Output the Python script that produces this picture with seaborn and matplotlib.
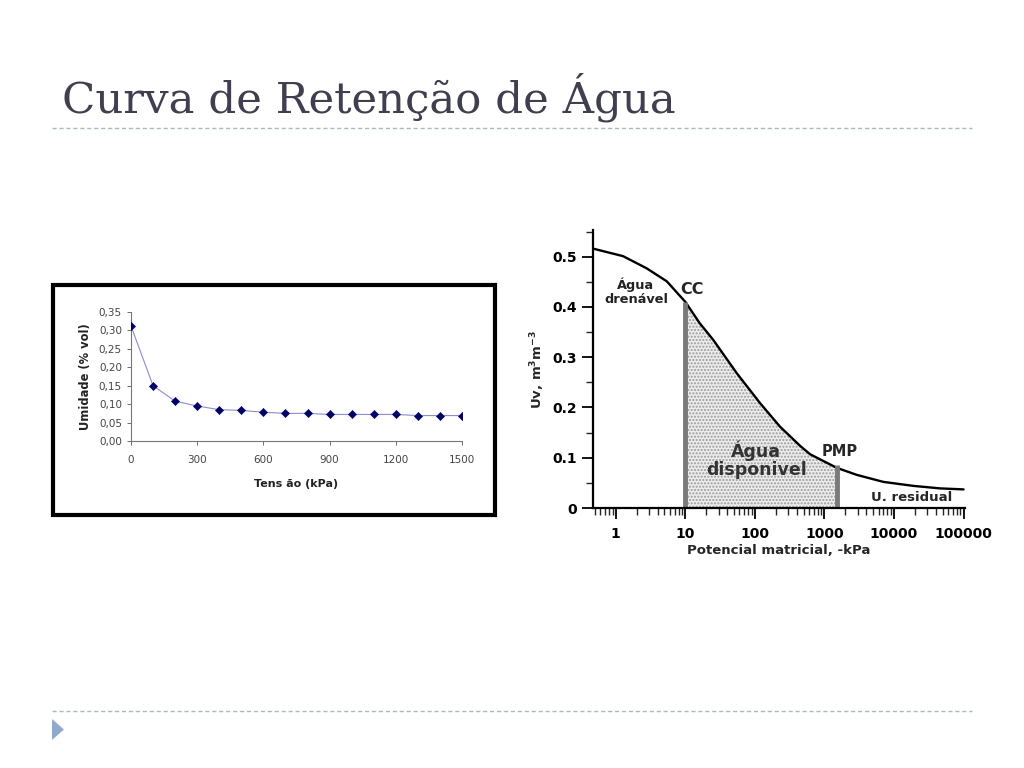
import matplotlib
matplotlib.use('Agg')
import numpy as np
import pandas as pd
import matplotlib.pyplot as plt
import seaborn as sns
from matplotlib.patches import Rectangle, Polygon
from matplotlib.lines import Line2D
from matplotlib.ticker import FixedLocator, NullFormatter, LogLocator

'''data - left chart (Tensão x Umidade)'''
tensao = [0, 100, 200, 300, 400, 500, 600, 700, 800, 900, 1000, 1100, 1200, 1300, 1400, 1500]
umidade = [0.312, 0.150, 0.108, 0.095, 0.085, 0.083, 0.078, 0.075, 0.075, 0.072,
           0.072, 0.072, 0.072, 0.069, 0.069, 0.069]
left_yticks = [0.0, 0.05, 0.10, 0.15, 0.20, 0.25, 0.30, 0.35]
left_xticks = [0, 300, 600, 900, 1200, 1500]

'''data - right chart (curva de retenção)'''
potencial = [0.47, 1.27, 2.76, 5.4, 10, 16, 25, 55, 118, 229, 444, 620, 1500,
             2900, 7000, 19000, 46000, 100000]
uv = [0.516, 0.501, 0.477, 0.451, 0.41, 0.368, 0.335, 0.268, 0.209, 0.162, 0.124,
      0.107, 0.080, 0.066, 0.052, 0.044, 0.039, 0.037]
cc = 10
pmp = 1500
right_xticks = [1, 10, 100, 1000, 10000, 100000]
right_yticks = [0, 0.1, 0.2, 0.3, 0.4, 0.5]

sns.set_style('ticks')
plt.rcParams['font.family'] = ['DejaVu Sans']

W, H = 1024, 768
fig = plt.figure(figsize=(W / 100, H / 100), dpi=100)

def fx(px):
    return px / W

def fy(py):
    return 1 - py / H

'''slide decorations'''
fig.text(fx(62), fy(112), 'Curva de Retenção de Água', fontsize=31.3,
         family='DejaVu Serif', color='#3f3f4f', va='baseline')
for yy in (128, 711):
    fig.add_artist(Line2D([fx(52), fx(972)], [fy(yy), fy(yy)], color='#a9b9c9',
                          lw=1, linestyle=(0, (3, 2))))
fig.add_artist(Polygon([(fx(52), fy(719)), (fx(52), fy(740)), (fx(64), fy(729.5))],
                       closed=True, color='#8faacc', lw=0))
fig.add_artist(Rectangle((fx(53), fy(515)), fx(442), 230 / H, fill=False,
                         edgecolor='black', lw=3))

'''left chart'''
df1 = pd.DataFrame({'Tensão': tensao, 'Umidade': umidade})
ax1 = fig.add_axes([fx(131), fy(441), fx(462 - 131), (441 - 312) / H])
sns.lineplot(data=df1, x='Tensão', y='Umidade', ax=ax1, color='#8c8cd0', lw=0.8)
sns.scatterplot(data=df1, x='Tensão', y='Umidade', ax=ax1, marker='D', s=18,
                color='#000066', edgecolor='#000066', zorder=3)
ax1.set_xlim(0, 1500)
ax1.set_ylim(0, 0.35)
ax1.set_xticks(left_xticks)
ax1.set_yticks(left_yticks)
ax1.set_yticklabels(['{:.2f}'.format(v).replace('.', ',') for v in left_yticks])
ax1.tick_params(labelsize=7.5, length=3, width=0.6, colors='#555555', labelcolor='#444444')
ax1.tick_params(axis='x', pad=7)
for s in ('left', 'bottom'):
    ax1.spines[s].set_color('#777777')
    ax1.spines[s].set_linewidth(0.8)
sns.despine(ax=ax1)
ax1.set_xlabel('Tens ão (kPa)', fontsize=8, fontweight='bold', color='#222222', labelpad=10)
ax1.set_ylabel('Umidade (% vol)', fontsize=8.3, fontweight='bold', color='#222222', labelpad=5)

'''right chart'''
df2 = pd.DataFrame({'pot': potencial, 'uv': uv})
ax2 = fig.add_axes([fx(593), fy(508), fx(965 - 593), (508 - 230) / H])
ax2.set_xscale('log')
sel = df2[(df2['pot'] >= cc) & (df2['pot'] <= pmp)]
ax2.fill_between(sel['pot'], 0, sel['uv'], facecolor='#ececec', edgecolor='#9a9a9a',
                 hatch='.....', lw=0)
sns.lineplot(data=df2, x='pot', y='uv', ax=ax2, color='black', lw=1.7)
y_cc = df2.loc[df2['pot'] == cc, 'uv'].iloc[0]
y_pmp = df2.loc[df2['pot'] == pmp, 'uv'].iloc[0]
ax2.vlines([cc, pmp], 0, [y_cc, y_pmp + 0.005], color='#7a7a7a', lw=3.5)
ax2.set_xlim(0.47, 1.05e5)
ax2.set_ylim(0, 0.553)
ax2.xaxis.set_major_locator(FixedLocator(right_xticks))
ax2.set_xticklabels([str(v) for v in right_xticks])
ax2.xaxis.set_minor_locator(LogLocator(base=10, subs=np.arange(2, 10)))
ax2.xaxis.set_minor_formatter(NullFormatter())
ax2.yaxis.set_major_locator(FixedLocator(right_yticks))
ax2.set_yticklabels(['0', '0.1', '0.2', '0.3', '0.4', '0.5'])
ax2.yaxis.set_minor_locator(FixedLocator([0.05, 0.15, 0.25, 0.35, 0.45, 0.55]))
ax2.tick_params(which='major', length=8, width=1.3, labelsize=10, colors='black')
ax2.tick_params(which='minor', length=5, width=1.0)
ax2.tick_params(axis='x', pad=6)
for lab in ax2.get_xticklabels() + ax2.get_yticklabels():
    lab.set_fontweight('bold')
for s in ('left', 'bottom'):
    ax2.spines[s].set_linewidth(1.6)
    ax2.spines[s].set_color('black')
sns.despine(ax=ax2)
ax2.set_xlabel('Potencial matricial, -kPa', fontsize=9.5, fontweight='bold', labelpad=2)
ax2.set_ylabel(r'Uv, m$^\mathbf{3}$m$^\mathbf{-3}$', fontsize=9.5, fontweight='bold', labelpad=4)

ax2.text(1.95, 0.43, 'Água\ndrenável', fontsize=9.3, fontweight='bold', ha='center',
         va='center', linespacing=1.05, color='#222222')
ax2.text(12.3, 0.434, 'CC', fontsize=11.5, fontweight='bold', ha='center', va='center')
ax2.text(105, 0.095, 'Água\ndisponivel', fontsize=12.5, fontweight='bold', ha='center',
         va='center', color='#333333', linespacing=1.0)
ax2.text(1650, 0.112, 'PMP', fontsize=10.5, fontweight='bold', ha='center', va='center')
ax2.text(18000, 0.021, 'U. residual', fontsize=9.5, fontweight='bold', ha='center', va='center')

fig.savefig('out.png', dpi=100)
